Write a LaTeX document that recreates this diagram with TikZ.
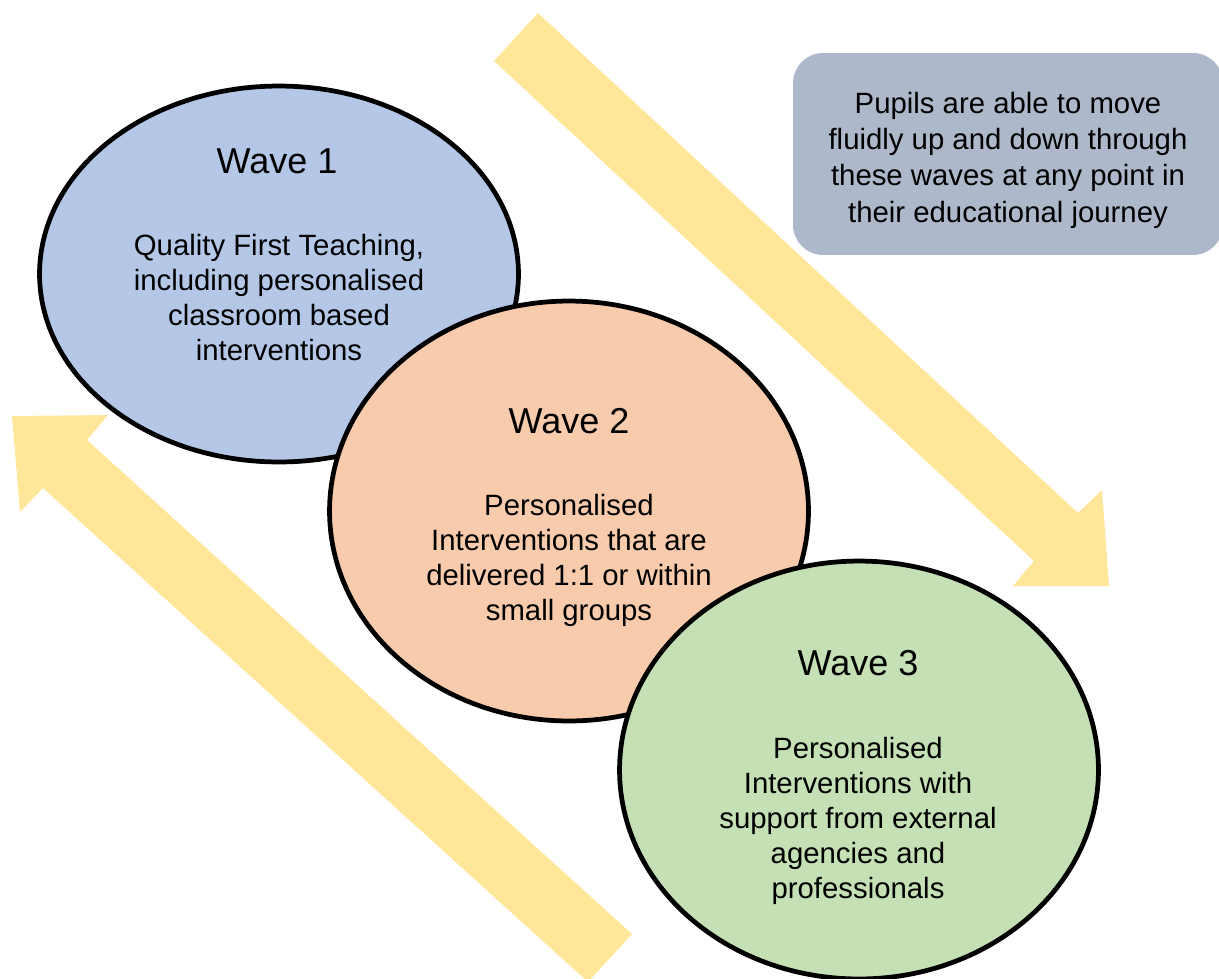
\documentclass[tikz,border=0pt]{standalone}
\usepackage{fontspec}
\setmainfont{Liberation Sans}
\usepackage{tikz}
\usetikzlibrary{shapes.geometric}

\definecolor{waveblue}{HTML}{B4C7E7}
\definecolor{waveorange}{HTML}{F8CBAD}
\definecolor{wavegreen}{HTML}{C5E0B4}
\definecolor{bandyellow}{HTML}{FFE699}
\definecolor{notegray}{HTML}{ADB9CA}

\begin{document}
\begin{tikzpicture}[x=0.02cm,y=-0.02cm,
  wave/.style={ellipse,draw=black,line width=2.7pt,minimum width=9.58cm,inner sep=0pt},
  wavetitle/.style={anchor=base,font=\fontsize{20.5}{24}\selectfont},
  wavetext/.style={anchor=base,align=center,font=\fontsize{16.7}{19.9}\selectfont},
  band/.style={fill=bandyellow}]
% Canvas
\clip (0,0) rectangle (1219,978);

% Arrows
\fill[band] (538,13) -- (1078,513) -- (1102,490) -- (1109,586) -- (1013,586) -- (1034,561) -- (494,61) -- cycle;
\fill[band] (12,416) -- (108,415) -- (87,440) -- (632,934) -- (588,982) -- (43,488) -- (20,512) -- cycle;

% Note box (text placed by its last baseline)
\node[fill=notegray,rounded corners=0.6cm,minimum width=8.6cm,minimum height=4.04cm,inner sep=0pt] (note) at (1008,154) {};
\node[wavetext,font=\fontsize{16.7}{20.6}\selectfont] (notetext) at (1008,222) {Pupils are able to move\\fluidly up and down through\\these waves at any point in\\their educational journey};

% Wave 1
\node[wave,fill=waveblue,minimum height=7.52cm] (wave1) at (279,274) {};
\node[wavetitle] (w1title) at (277,173) {Wave 1};
\node[wavetext] (w1text) at (279,360) {Quality First Teaching,\\including personalised\\classroom based\\interventions};

% Wave 2
\node[wave,fill=waveorange,minimum height=8.4cm] (wave2) at (569,511) {};
\node[wavetitle] (w2title) at (569,433) {Wave 2};
\node[wavetext] (w2text) at (569,620) {Personalised\\Interventions that are\\delivered 1:1 or within\\small groups};

% Wave 3
\node[wave,fill=wavegreen,minimum height=8.36cm] (wave3) at (859,770) {};
\node[wavetitle] (w3title) at (858,675) {Wave 3};
\node[wavetext] (w3text) at (858,898) {Personalised\\Interventions with\\support from external\\agencies and\\professionals};
\end{tikzpicture}
\end{document}
